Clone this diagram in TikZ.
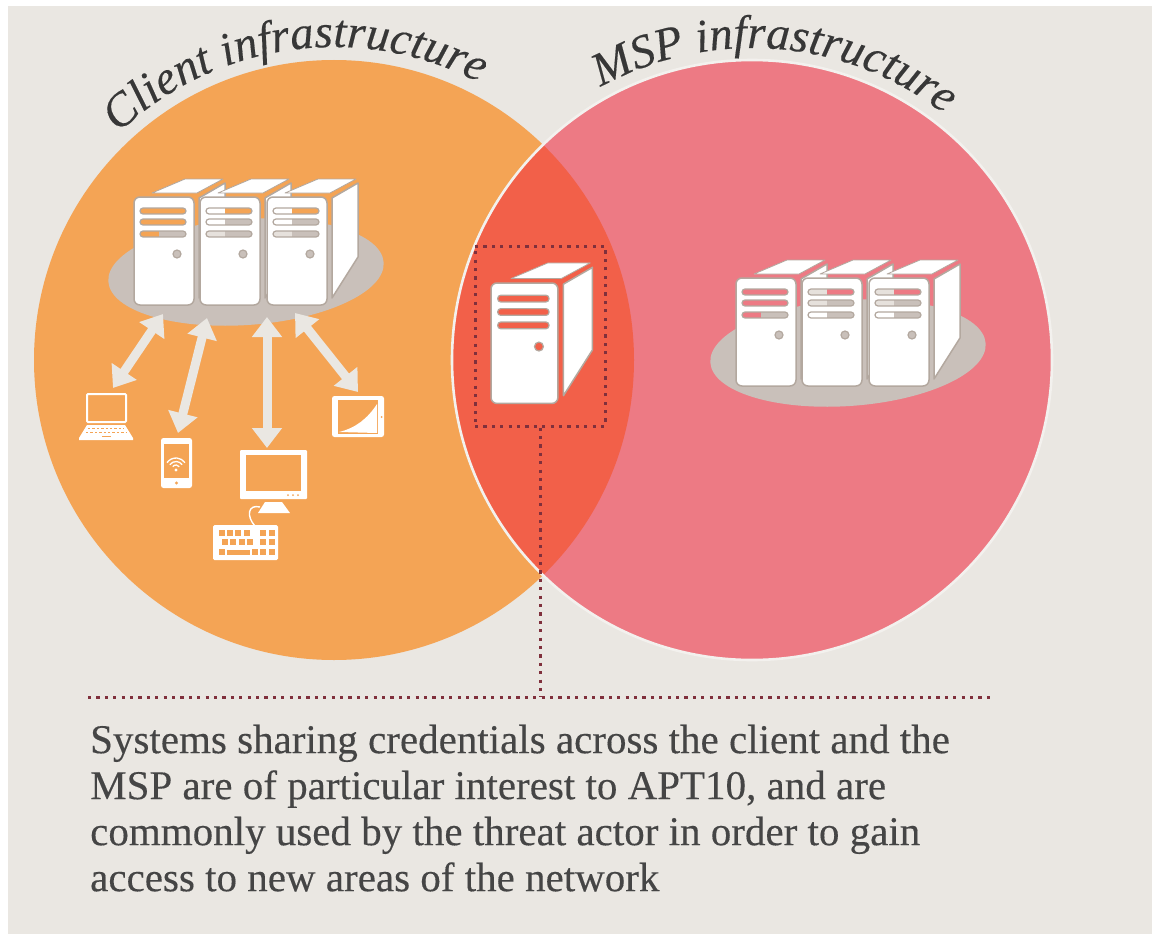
\documentclass[tikz,border=0pt]{standalone}
\usepackage{fontspec}
\setmainfont{Liberation Serif}
\newfontfamily\inkfont[FakeBold=0.3]{Liberation Serif}
\usetikzlibrary{arrows.meta,shapes.geometric,decorations.text}

\definecolor{paper}{HTML}{EAE7E2}
\definecolor{clientfill}{HTML}{F4A455}
\definecolor{mspfill}{HTML}{ED7A84}
\definecolor{sharedfill}{HTML}{F26049}
\definecolor{hubgrey}{HTML}{C9C0BA}
\definecolor{rackedge}{HTML}{B3A89F}
\definecolor{barlight}{HTML}{E6E1DC}
\definecolor{dotline}{HTML}{80303C}
\definecolor{inktext}{HTML}{454545}

\tikzset{
    hub/.style={ellipse,fill=hubgrey,inner sep=0pt,minimum width=276pt,minimum height=106pt,rotate=4},
    rackface/.style={fill=white,draw=rackedge,line width=1.5pt,line join=round},
    linkarrow/.style={draw=paper,line width=9pt,{Triangle[width=29pt,length=20pt]}-{Triangle[width=29pt,length=20pt]}},
    whiteline/.style={draw=white,line width=2pt,rounded corners=1pt},
    dotted rule/.style={draw=dotline,line width=3pt,dash pattern=on 3.2pt off 5.2pt},
    arc title/.style={decorate,decoration={text along path,text align={fit to path},text={#1}}}
}

\newcommand{\rackunit}[5]{
    \begin{scope}[shift={(#1,#2)},scale=#3]
        \draw[rackface] (65,1) -- (91,-14) -- (91,60) -- (65,101) -- cycle;
        \fill[white,draw=rackedge,line width=0.8pt,line join=round] (18,-4) -- (51,-18) -- (89,-18) -- (63,-4) -- cycle;
        \draw[rackface,rounded corners=6pt] (0,0) rectangle (60,108);
        \foreach \baroff/\barleft/\barright in {#4} {
            \begin{scope}
                \clip[rounded corners=3pt] (6,\baroff-3) rectangle (52,\baroff+3);
                \fill[\barright] (6,\baroff-3) rectangle (52,\baroff+3);
                \fill[\barleft] (6,\baroff-3) rectangle (25,\baroff+3);
            \end{scope}
            \draw[rackedge,line width=1.2pt,rounded corners=3pt] (6,\baroff-3) rectangle (52,\baroff+3);
        }
        \fill[#5,draw=rackedge,line width=1.2pt] (43,57) circle (4);
    \end{scope}
}

\begin{document}
\begin{tikzpicture}[x=1pt,y=-1pt]
    \useasboundingbox (0,0) rectangle (1152,934);
    \fill[white] (0,0) rectangle (1152,934);
    \fill[paper] (8,6) rectangle (1152,934);

    \fill[clientfill] (334,360) circle (300);
    \fill[mspfill] (752,360) circle (300);
    \begin{scope}
        \clip (334,360) circle (300);
        \fill[sharedfill] (752,360) circle (300);
    \end{scope}
    \draw[paper!60!white,line width=2.6pt] (752,360) circle (300);

    \path[arc title={|\inkfont\fontsize{47}{47}\selectfont\itshape\color{inktext!80!black}|Client infrastructure}]
        (334,360) ++(-133.5:313) arc (-133.5:-62.4:313);
    \path[arc title={|\inkfont\fontsize{47}{47}\selectfont\itshape\color{inktext!80!black}|MSP infrastructure}]
        (752,360) ++(-119:312) arc (-119:-52:312);

    % client racks
    \node[hub] (clienthub) at (246,272) {};
    \rackunit{134}{197}{1}{14/clientfill/clientfill,25/clientfill/clientfill,37/clientfill/hubgrey}{hubgrey}
    \rackunit{200}{197}{1}{14/white/clientfill,25/white/hubgrey,37/barlight/hubgrey}{hubgrey}
    \rackunit{267}{197}{1}{14/white/clientfill,25/white/hubgrey,37/barlight/hubgrey}{hubgrey}

    % msp racks
    \node[hub] (msphub) at (848,353) {};
    \rackunit{736}{278}{1}{14/mspfill/mspfill,25/mspfill/mspfill,37/mspfill/hubgrey}{hubgrey}
    \rackunit{802}{278}{1}{14/barlight/mspfill,25/barlight/hubgrey,37/white/hubgrey}{hubgrey}
    \rackunit{869}{278}{1}{14/barlight/mspfill,25/barlight/hubgrey,37/white/hubgrey}{hubgrey}

    % shared system
    \rackunit{491}{283}{1.115}{14/sharedfill/sharedfill,26/sharedfill/sharedfill,38/sharedfill/sharedfill}{sharedfill}
    \node[dotted rule,minimum width=130pt,minimum height=180pt,inner sep=0pt] (sharedbox) at (540,336) {};
    \coordinate (ruledrop) at (540,697);
    \coordinate (ruleleft) at (88,697);
    \coordinate (ruleright) at (992,697);
    \draw[dotted rule] (sharedbox.south) -- (ruledrop);
    \draw[dotted rule] (ruleleft) -- (ruleright);

    % devices
    \node[whiteline,draw,inner sep=0pt,minimum width=39pt,minimum height=28pt] (laptop) at (106.5,408) {};
    \fill[white] (87,425) -- (125,425) -- (133,438) -- (133,440) -- (79,440) -- (79,438) -- cycle;
    \draw[clientfill,line width=1.3pt,dash pattern=on 2.4pt off 2pt] (88,428.5) -- (124,428.5);
    \draw[clientfill,line width=1.3pt,dash pattern=on 2.4pt off 2pt] (86,432.5) -- (126,432.5);
    \draw[clientfill,line width=1.2pt] (102,436.5) -- (111,436.5);

    \node[fill=white,rounded corners=2.5pt,inner sep=0pt,minimum width=31pt,minimum height=50pt] (phone) at (176.5,463) {};
    \fill[clientfill] (163.5,444) rectangle (189,477.5);
    \fill[clientfill] (176.5,483) circle (1.7);
    \foreach \wifir in {4,7.5,11} {
        \draw[white,line width=1.3pt] (176,469) ++(-145:\wifir) arc (-145:-35:\wifir);
    }
    \fill[white] (176,470) circle (1.7);

    \node[fill=white,rounded corners=1pt,inner sep=0pt,minimum width=67pt,minimum height=49pt] (monitor) at (273.5,474.5) {};
    \fill[clientfill] (246,455) rectangle (301,491);
    \foreach \ledx in {288,293,298} {
        \fill[clientfill] (\ledx,495) circle (1);
    }
    \fill[white] (265,502) -- (282,502) -- (290,513) -- (258,513) -- cycle;
    \draw[white,line width=1.4pt] (260,507) .. controls (248,504) and (246,516) .. (255,526);

    \node[fill=white,rounded corners=1.5pt,inner sep=0pt,minimum width=65pt,minimum height=35pt] (keyboard) at (245.5,542.5) {};
    \foreach \keyx/\keyy in {222/533,230/533,238/533,247/533,263/533,272/533,225/542,233/542,242/542,250/542,263/542,272/542,222/552,255/552,263/552,272/552} {
        \fill[clientfill] (\keyx-2.7,\keyy-2.7) rectangle (\keyx+2.7,\keyy+2.7);
    }
    \fill[clientfill] (227,549.5) rectangle (250,554.7);

    \node[fill=white,rounded corners=2.5pt,inner sep=0pt,minimum width=52pt,minimum height=41pt] (tablet) at (358,416.5) {};
    \fill[clientfill] (338,400) rectangle (378,434);
    \fill[white] (339,432) .. controls (356,428) and (368,418) .. (377,404) -- (377,433) -- cycle;
    \fill[clientfill] (381.5,417) circle (1);

    % links to the racks
    \coordinate (huba) at (163,314);
    \coordinate (hubb) at (207,318);
    \coordinate (hubc) at (267,317);
    \coordinate (hubd) at (295,313);
    \coordinate (laptoptip) at (113,388);
    \coordinate (phonetip) at (178,433);
    \coordinate (monitortip) at (267,448);
    \coordinate (tablettip) at (358,392);
    \draw[linkarrow] (huba) -- (laptoptip);
    \draw[linkarrow] (hubb) -- (phonetip);
    \draw[linkarrow] (hubc) -- (monitortip);
    \draw[linkarrow] (hubd) -- (tablettip);

    \node[anchor=north west,inner sep=0pt,align=left,text=inktext,font=\inkfont\fontsize{41}{46}\selectfont] (caption) at (90,724.5) {Systems sharing credentials across the client and the\\MSP are of particular interest to APT10, and are\\commonly used by the threat actor in order to gain\\access to new areas of the network};
\end{tikzpicture}
\end{document}
